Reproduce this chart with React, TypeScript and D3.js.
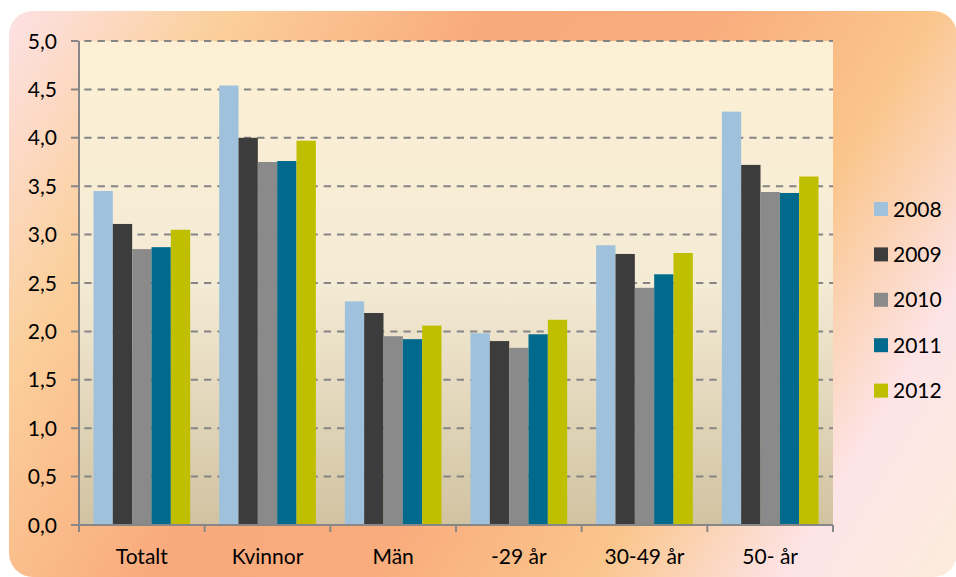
import React, { useEffect, useRef } from 'react';
import * as d3 from 'd3';

const categories = ['Totalt', 'Kvinnor', 'Män', '-29 år', '30-49 år', '50- år'];
const years = ['2008', '2009', '2010', '2011', '2012'];
const values2008 = [3.45, 4.54, 2.31, 1.98, 2.89, 4.27];
const values2009 = [3.11, 4.0, 2.19, 1.9, 2.8, 3.72];
const values2010 = [2.85, 3.75, 1.95, 1.83, 2.45, 3.44];
const values2011 = [2.87, 3.76, 1.92, 1.97, 2.59, 3.43];
const values2012 = [3.05, 3.97, 2.06, 2.12, 2.81, 3.6];
const yTicks = [0, 0.5, 1, 1.5, 2, 2.5, 3, 3.5, 4, 4.5, 5];
const colors = ['#a0c1dc', '#3c3c3c', '#8a8a8a', '#006a8c', '#bfbf00'];

const series = [values2008, values2009, values2010, values2011, values2012];

function App() {
  const svgRef = useRef();

  useEffect(() => {
    const W = 956, H = 577;
    const left = 79, right = 833, top = 41, bottom = 525;
    const font = 'Lato, "Open Sans", sans-serif';

    const svg = d3.select(svgRef.current)
      .attr('width', W)
      .attr('height', H);
    svg.selectAll('*').remove();

    const defs = svg.append('defs');
    const bg = defs.append('linearGradient')
      .attr('id', 'bgGrad')
      .attr('gradientUnits', 'userSpaceOnUse')
      .attr('x1', 0).attr('y1', 0).attr('x2', W).attr('y2', H);
    [[0, '#fde3ea'], [0.18, '#fbcf9b'], [0.38, '#f9aa7c'], [0.55, '#f9ac7d'],
     [0.72, '#fac58b'], [0.87, '#fde4e7'], [1, '#fdecdc']].forEach(([o, c]) => {
      bg.append('stop').attr('offset', o).attr('stop-color', c);
    });

    const plotGrad = defs.append('linearGradient')
      .attr('id', 'plotGrad')
      .attr('x1', 0).attr('y1', 0).attr('x2', 0).attr('y2', 1);
    [[0, '#fdf0d4'], [0.5, '#f4ebd6'], [1, '#d1c3a1']].forEach(([o, c]) => {
      plotGrad.append('stop').attr('offset', o).attr('stop-color', c);
    });

    svg.append('rect')
      .attr('x', 9).attr('y', 11)
      .attr('width', 948).attr('height', 566)
      .attr('rx', 24)
      .attr('fill', 'url(#bgGrad)');

    svg.append('rect')
      .attr('x', left).attr('y', top)
      .attr('width', right - left).attr('height', bottom - top)
      .attr('fill', 'url(#plotGrad)');

    const x = d3.scaleBand().domain(categories).range([left, right]).padding(0);
    const x1 = d3.scaleBand().domain(years).range([0, x.bandwidth()])
      .paddingInner(0).paddingOuter(0.75);
    const y = d3.scaleLinear().domain([0, 5]).range([bottom, top]);

    // gridlines
    svg.append('g')
      .selectAll('line')
      .data(yTicks.filter(d => d > 0))
      .enter()
      .append('line')
      .attr('x1', left - 8).attr('x2', right)
      .attr('y1', d => y(d)).attr('y2', d => y(d))
      .attr('stroke', '#858585')
      .attr('stroke-width', 2)
      .attr('stroke-dasharray', '7.3,6');

    // bars
    const groups = svg.append('g')
      .selectAll('g')
      .data(categories)
      .enter()
      .append('g')
      .attr('transform', d => `translate(${x(d)},0)`);

    groups.selectAll('rect')
      .data((c, i) => years.map((yr, j) => ({ yr, j, v: series[j][i] })))
      .enter()
      .append('rect')
      .attr('x', d => x1(d.yr))
      .attr('y', d => y(d.v))
      .attr('width', x1.bandwidth())
      .attr('height', d => bottom - y(d.v))
      .attr('fill', d => colors[d.j]);

    // axes
    const axisColor = '#878787';
    svg.append('line')
      .attr('x1', left).attr('x2', left).attr('y1', top).attr('y2', bottom)
      .attr('stroke', axisColor).attr('stroke-width', 2);
    svg.append('line')
      .attr('x1', left - 8).attr('x2', right).attr('y1', bottom).attr('y2', bottom)
      .attr('stroke', axisColor).attr('stroke-width', 2);

    const xTicks = categories.map(c => x(c)).concat([right]);
    svg.append('g')
      .selectAll('line')
      .data(xTicks)
      .enter()
      .append('line')
      .attr('x1', d => d).attr('x2', d => d)
      .attr('y1', bottom).attr('y2', bottom + 7)
      .attr('stroke', axisColor).attr('stroke-width', 2);

    const fmt = d => d3.format('.1f')(d).replace('.', ',');
    svg.append('g')
      .selectAll('text')
      .data(yTicks)
      .enter()
      .append('text')
      .attr('x', 57)
      .attr('y', d => y(d) + 7.5)
      .attr('text-anchor', 'end')
      .attr('font-family', font)
      .attr('font-size', 21)
      .attr('fill', '#000')
      .text(fmt);

    svg.append('g')
      .selectAll('text')
      .data(categories)
      .enter()
      .append('text')
      .attr('x', d => x(d) + x.bandwidth() / 2)
      .attr('y', 564)
      .attr('text-anchor', 'middle')
      .attr('font-family', font)
      .attr('font-size', 21)
      .attr('fill', '#000')
      .text(d => d);

    // legend
    const legend = svg.append('g')
      .selectAll('g')
      .data(years)
      .enter()
      .append('g')
      .attr('transform', (d, i) => `translate(874,${209 + i * 45.4})`);
    legend.append('rect')
      .attr('x', 0).attr('y', -7)
      .attr('width', 14).attr('height', 14)
      .attr('fill', (d, i) => colors[i]);
    legend.append('text')
      .attr('x', 19).attr('y', 7.5)
      .attr('font-family', font)
      .attr('font-size', 21)
      .attr('fill', '#000')
      .text(d => d);
  }, []);

  return (
    <div style={{ position: 'absolute', left: 0, top: 0 }}>
      <svg ref={svgRef} style={{ display: 'block' }}></svg>
    </div>
  );
}

export default App;
